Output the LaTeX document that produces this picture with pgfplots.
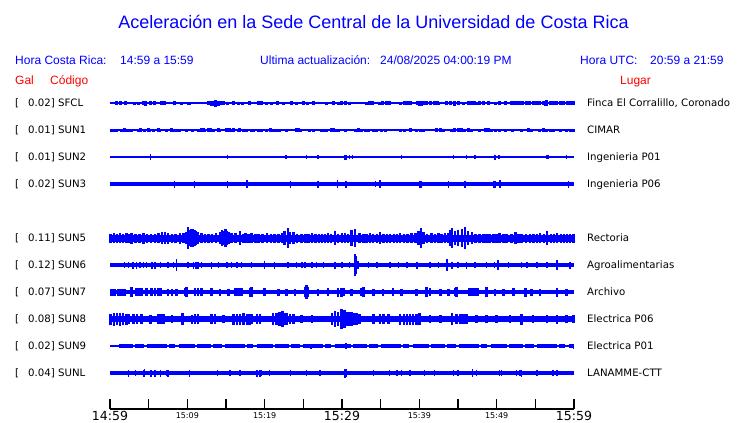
\documentclass[border=0pt]{standalone}
\usepackage{pgfplots}
\pgfplotsset{compat=1.18}
\usepackage{fontspec}
\setmainfont{Liberation Sans}
\newfontfamily\dejavu{DejaVu Sans}
\newcommand\fs[1]{\fontsize{#1}{#1}\selectfont}
\newcommand\bigt[1]{\dejavu\fs{12.5pt}#1}
\newcommand\smt[1]{\raisebox{1.7pt}{\dejavu\fs{8pt}#1}}
\pgfplotsset{
 base/.style={blue, line width=#1, forget plot},
 spk/.style={draw=none, no markers, forget plot, error bars/.cd, y dir=both, y explicit, error mark=none, error bar style={line width=#1, draw=blue, solid}},
}
\begin{document}
\begin{tikzpicture}
\useasboundingbox (0,0) rectangle (740pt,-423pt);
\begin{axis}[
 at={(110pt,-409pt)}, anchor=south west, scale only axis, width=464pt, height=319pt,
 xmin=0, xmax=60, ymin=14, ymax=333, clip=false,
 axis y line=none, axis x line=bottom, x axis line style={-, line width=1.2pt, black},
 xtick={0,10,...,60}, minor xtick={5,15,...,55},
 xtick align=inside, major tick length=10pt, minor tick length=10pt,
 every tick/.style={black, line width=1.1pt},
 xticklabels={\bigt{14:59},\smt{15:09},\smt{15:19},\bigt{15:29},\smt{15:39},\smt{15:49},\bigt{15:59}},
 xticklabel style={anchor=base, inner sep=0pt, yshift=-11pt},
]
% ---- SFCL (y=320)
\addplot[base=1.4pt] coordinates {(0,320) (60,320)};
\addplot[spk=3pt] table[x=t, y expr=320, y error=a, row sep=\\] {t a\\
0.8 2\\ 1.3 2\\ 2.0 2\\ 3.2 1.5\\ 3.7 1.5\\ 4.3 2\\ 4.6 2.5\\ 5.2 2\\ 5.8 2\\ 6.6 2\\ 7.1 2\\ 8.4 2\\ 9.3 1.5\\ 10.1 1.5\\ 10.3 1.5\\
12.7 2\\ 13.1 2.5\\ 13.4 2.5\\ 13.7 3.5\\ 14.0 2.5\\ 14.3 2\\ 14.7 2\\ 15.2 1.5\\ 16.0 2\\ 16.6 1.5\\ 17.1 1.5\\ 18.1 2\\ 19.2 2\\ 19.6 2\\
20.3 1.5\\ 20.9 1.5\\ 21.6 2\\ 22.4 1.5\\ 23.5 2\\ 24.1 1.5\\ 25.0 2\\ 25.6 1.5\\ 26.3 2\\ 28.0 1.5\\ 28.9 2\\ 29.5 1.5\\ 29.9 2\\
30.4 2\\ 31.0 1.5\\ 33.2 1.5\\ 33.6 2\\ 33.9 2\\ 34.9 1.5\\ 35.3 2\\ 35.8 2\\ 36.2 2\\ 37.5 1.5\\ 38.1 2\\ 38.5 2\\ 38.8 2\\ 39.7 2\\
40.0 2.5\\ 40.3 2.5\\ 40.5 2\\ 40.9 2\\ 41.4 2\\ 42.0 2\\ 42.3 2\\ 42.5 1.5\\ 43.5 2\\ 44.0 2\\ 44.6 2.5\\ 45.0 2\\ 45.7 1.5\\ 46.3 2\\
46.8 2\\ 47.1 2\\ 47.4 1.5\\ 47.8 2\\ 48.3 2\\ 48.9 2\\ 49.8 1.5\\ 50.4 2\\ 51.1 2\\ 51.9 2\\ 52.3 2\\ 52.6 2\\ 53.0 2\\ 53.4 2\\ 53.9 2\\
54.3 2\\ 54.7 2\\ 55.2 2\\ 55.6 2\\ 56.0 2\\ 56.3 2.5\\ 56.5 3\\ 56.9 2\\ 57.3 2\\ 57.8 2\\ 58.2 2\\ 58.6 2\\ 59.1 2\\ 59.5 2\\ 59.9 2\\
};
% ---- SUN1 (y=293)
\addplot[base=1.2pt] coordinates {(0,293) (60,293)};
\addplot[spk=3pt] table[x=t, y expr=293, y error=a, row sep=\\] {t a\\
0.13 1.5\\ 0.43 1.5\\ 0.86 1.5\\ 1.5 1.5\\ 1.85 2\\ 2.15 1.5\\ 2.45 1.5\\ 2.8 1.5\\ 3.66 1.5\\ 3.88 2\\ 4.44 1.5\\ 4.95 2\\ 5.17 1.5\\ 5.6 1.5\\
6.25 2\\ 6.46 1.5\\ 7.3 1.5\\ 7.97 2\\ 8.19 1.5\\ 8.62 1.5\\ 9.05 1.5\\ 9.9 1.5\\ 10.64 1.5\\ 11.4 1.5\\ 11.85 2\\ 12.06 2\\ 12.28 1.5\\ 12.8 2\\
13.06 2\\ 13.36 1.5\\ 14.0 2\\ 14.22 1.5\\ 15.08 2\\ 15.3 2\\ 15.5 2\\ 15.73 1.5\\ 15.95 2\\ 16.6 1.5\\ 16.8 2\\ 17.24 1.5\\ 17.67 1.5\\ 18.3 1.5\\
18.53 1.5\\ 19.2 1.5\\ 19.6 1.5\\ 20.25 1.5\\ 20.7 2\\ 21.1 1.5\\ 21.55 1.5\\ 21.98 1.5\\ 22.84 1.5\\ 24.1 2\\ 24.35 2\\ 24.57 1.5\\ 25.86 1.5\\
26.3 1.5\\ 27.37 1.5\\ 27.6 1.5\\ 28.0 1.5\\ 28.66 2\\ 28.87 2\\ 29.1 1.5\\ 29.5 1.5\\ 30.5 1.5\\ 31.7 1.5\\ 32.1 2\\ 32.5 1.5\\ 33.0 1.5\\
33.4 1.5\\ 34.05 1.5\\ 34.5 1.5\\ 35.1 1.5\\ 35.6 1.5\\ 37.5 1.5\\ 38.1 1.5\\ 38.8 2\\ 39.65 1.5\\ 40.1 1.5\\ 40.5 1.5\\ 42.2 2\\ 42.7 2\\
43.1 1.5\\ 44.2 1.5\\ 44.6 2\\ 45.0 2\\ 45.5 2\\ 45.9 1.5\\ 46.3 2\\ 46.8 1.5\\ 47.8 1.5\\ 48.5 2\\ 48.9 2\\ 49.35 1.5\\ 49.8 1.5\\ 50.4 1.5\\
51.1 1.5\\ 52.1 1.5\\ 53.2 1.5\\ 54.1 2\\ 54.5 1.5\\ 55.6 1.5\\ 56.0 2\\ 56.5 1.5\\ 56.9 1.5\\ 57.3 1.5\\ 58.2 1.5\\ 59.05 1.5\\ 59.5 1.5\\ 59.9 1.5\\
};
% ---- SUN2 (y=266)
\addplot[base=1.2pt] coordinates {(0,266) (60,266)};
\addplot[spk=1.3pt] table[x=t, y expr=266, y error=a, row sep=\\] {t a\\
5.2 3\\ 15.2 2\\ 22.75 2\\ 25.4 2\\ 26.9 2\\ 30.4 2.5\\ 30.6 2.5\\ 31.0 2\\ 31.4 2\\ 37.7 2\\ 44.4 2\\ 46.1 2\\ 47.2 2\\ 49.8 2.5\\
50.3 2\\ 56.5 2\\ 56.7 2\\ 59.05 2\\
};
% ---- SUN3 (y=239)
\addplot[base=3.8pt] coordinates {(0,239) (60,239)};
\addplot[spk=1.3pt] table[x=t, y expr=239, y error=a, row sep=\\] {t a\\
8.3 3.5\\ 10.9 3.5\\ 15.2 3.5\\ 17.7 4\\ 23.3 3.5\\ 26.9 3.5\\ 29.4 4\\ 30.5 3.5\\ 34.3 3\\ 34.9 4\\ 40.1 3.5\\ 40.3 3.5\\ 43.75 3.5\\
45.9 3.5\\ 49.6 3.5\\ 49.8 3.5\\ 50.4 4\\ 50.5 4\\ 59.3 3.5\\
};
% ---- SUN5 (y=185)
\addplot[base=7pt] coordinates {(0,185) (60,185)};
\addplot[spk=2.6pt] table[x=t, y expr=185, y error=a, row sep=\\] {t a\\
0.1 4.5\\ 0.5 5\\ 0.9 4.5\\ 1.3 5\\ 1.7 4.5\\ 2.1 5\\ 2.5 4.5\\ 2.8 5.5\\ 3.3 4.5\\ 3.8 4.5\\ 4.3 5.5\\ 4.8 4.5\\ 5.3 4.5\\ 5.8 4.5\\ 6.3 5\\
6.7 6\\ 7.1 6\\ 7.5 5.5\\ 8.0 4.5\\ 8.5 4.5\\ 9.05 5.5\\ 9.5 5\\ 9.9 6\\ 10.1 11\\ 10.3 8\\ 10.5 9\\ 10.7 9\\ 10.9 8\\ 11.1 7\\ 11.4 6\\ 11.8 5\\
12.3 4.5\\ 12.7 4.5\\ 13.2 4.5\\ 13.7 5\\ 14.2 6\\ 14.5 8\\ 14.7 7\\ 14.9 9\\ 15.1 7\\ 15.4 6\\ 15.7 5\\ 16.2 5\\ 16.8 7\\ 17.2 4.5\\ 17.5 5\\
17.9 4.5\\ 18.3 5\\ 18.8 4.5\\ 19.2 4.5\\ 19.7 4.5\\ 20.3 5\\ 20.8 4.5\\ 21.3 4.5\\ 21.8 4.5\\ 22.3 5\\ 22.6 7\\ 23.0 10\\ 23.3 6\\ 23.7 6\\
24.2 4.5\\ 24.8 4.5\\ 25.3 4.5\\ 25.7 4.5\\ 26.1 5\\ 26.6 4.5\\ 27.0 4.5\\ 27.4 4.5\\ 27.8 4.5\\ 28.2 5\\ 28.6 4.5\\ 29.1 7\\ 29.5 4.5\\ 30.0 5\\
30.4 5\\ 30.8 4.5\\ 31.25 8\\ 31.7 9\\ 32.3 5\\ 32.8 4.5\\ 33.2 4.5\\ 33.6 5\\ 34.0 4.5\\ 34.5 4.5\\ 34.9 6\\ 35.4 4.5\\ 35.8 4.5\\ 36.2 4.5\\
36.7 4.5\\ 37.1 4.5\\ 37.5 5\\ 38.0 4.5\\ 38.5 4.5\\ 39.0 5\\ 39.5 5\\ 39.9 7\\ 40.2 10\\ 40.5 6\\ 41.0 4.5\\ 41.6 5\\ 42.0 4.5\\ 42.5 5\\
42.9 4.5\\ 43.3 5\\ 43.7 5\\ 44.0 8\\ 44.2 10\\ 44.6 7\\ 45.0 8\\ 45.5 9\\ 45.9 11\\ 46.3 7\\ 46.8 6\\ 47.3 4.5\\ 47.8 4.5\\ 48.3 4.5\\ 48.7 4.5\\
49.1 4.5\\ 49.6 4.5\\ 50.0 4.5\\ 50.4 5\\ 50.9 4.5\\ 51.3 4.5\\ 51.9 4.5\\ 52.4 6\\ 52.8 4.5\\ 53.2 4.5\\ 53.8 4.5\\ 54.3 4.5\\ 54.8 4.5\\
55.2 4.5\\ 55.6 5\\ 56.1 4.5\\ 56.5 7\\ 57.0 4.5\\ 57.4 4.5\\ 57.8 5\\ 58.3 4.5\\ 58.7 4.5\\ 59.1 4.5\\ 59.5 4.5\\ 59.9 4.5\\
};
% ---- SUN6 (y=158)
\addplot[base=3.5pt] coordinates {(0,158) (60,158)};
\addplot[spk=1.5pt] table[x=t, y expr=158, y error=a, row sep=\\] {t a\\
1.9 3\\ 2.4 3\\ 3.0 3.5\\ 3.4 3.5\\ 3.9 3\\ 4.3 3\\ 4.7 3\\ 5.4 3.5\\ 5.8 3.5\\ 6.5 3\\ 7.5 3\\ 8.2 3\\ 8.6 6\\ 10.1 3\\ 10.8 3.5\\ 11.1 3.5\\
11.4 3.5\\ 11.85 3\\ 13.1 3.5\\ 14.0 3\\ 15.1 3\\ 15.7 3\\ 16.4 3\\ 17.0 3\\ 18.3 3\\ 20.0 4\\ 21.3 3.5\\ 23.0 3\\ 24.1 3\\ 24.8 3\\ 25.2 3\\
26.1 3\\ 26.7 3\\ 27.6 3\\ 29.1 3.5\\ 30.0 3\\ 31.0 3\\ 31.7 11\\ 31.8 9\\ 32.1 4\\ 33.4 3\\ 34.5 3\\ 36.2 3\\ 37.3 3\\ 38.4 3\\ 39.7 3.5\\
41.4 3\\ 42.5 3\\ 43.6 6\\ 44.2 3.5\\ 45.0 3\\ 46.1 3.5\\ 47.2 3\\ 48.7 3\\ 49.7 3\\ 50.2 5\\ 51.5 3\\ 53.2 3\\ 53.9 3\\ 55.2 3\\ 56.5 3\\
57.8 5\\ 59.5 3.5\\
};
% ---- SUN7 (y=131)
\addplot[base=4pt] coordinates {(0,131) (60,131)};
\addplot[spk=2.6pt] table[x=t, y expr=131, y error=a, row sep=\\] {t a\\
0.2 3.5\\ 0.6 3.5\\ 1.1 3.5\\ 1.5 3.5\\ 1.9 3.5\\ 2.8 5\\ 3.4 4\\ 3.8 4\\ 4.1 4\\ 4.7 4\\ 5.4 4\\ 5.8 4\\ 6.2 4\\ 6.5 4\\ 7.5 3.5\\ 8.0 3.5\\
8.6 3.5\\ 9.7 4\\ 9.9 5\\ 11.0 4\\ 11.4 4\\ 11.85 4\\ 13.1 4\\ 14.2 3.5\\ 15.3 3.5\\ 16.2 4\\ 16.6 4\\ 17.0 4\\ 18.1 4.5\\ 18.3 5\\ 20.0 4\\
21.8 3.5\\ 22.8 3.5\\ 23.9 3.5\\ 25.2 5\\ 25.4 7\\ 25.6 5\\ 26.9 3.5\\ 28.2 4\\ 29.5 4.5\\ 29.9 4.5\\ 30.2 4\\ 31.25 3.5\\ 32.5 4\\ 32.8 5\\
34.05 3.5\\ 35.3 3.5\\ 36.6 4\\ 37.7 3.5\\ 39.65 3.5\\ 40.9 5\\ 41.4 4\\ 42.7 3.5\\ 43.8 3.5\\ 44.6 4\\ 44.8 5\\ 46.5 4\\ 46.9 4\\ 47.3 4\\
47.6 4\\ 48.7 5\\ 49.8 3.5\\ 50.9 3.5\\ 52.2 4\\ 53.7 4.5\\ 54.5 3.5\\ 55.6 3.5\\ 57.8 4.5\\ 59.05 3.5\\
};
% ---- SUN8 (y=104)
\addplot[base=6pt] coordinates {(0,104) (60,104)};
\addplot[spk=2.6pt] table[x=t, y expr=104, y error=a, row sep=\\] {t a\\
0.1 5.5\\ 0.5 6.5\\ 0.9 6\\ 1.3 6.5\\ 1.7 6\\ 2.1 5.5\\ 2.4 5\\ 3.0 5\\ 3.5 5\\ 4.1 5\\ 5.2 4.5\\ 6.25 5\\ 6.6 5\\ 6.9 5\\ 8.0 4\\ 9.4 6\\
10.6 4.5\\ 11.0 5\\ 11.4 5\\ 13.1 5\\ 13.6 5\\ 14.65 4\\ 16.0 5.5\\ 16.4 5.5\\ 16.8 5.5\\ 17.3 6\\ 17.7 5.5\\ 18.0 5.5\\ 18.3 5\\ 19.0 5\\
19.4 5\\ 21.1 6\\ 21.5 6\\ 21.9 7\\ 22.3 8\\ 22.6 6\\ 22.8 6\\ 23.3 5\\ 23.7 5\\ 24.8 4\\ 26.1 4\\ 28.7 6\\ 29.1 8\\ 29.5 7\\ 29.9 10\\
30.0 7\\ 30.3 9\\ 30.6 7\\ 30.9 7\\ 31.2 7\\ 31.5 6\\ 31.9 6\\ 32.3 5\\ 34.05 5\\ 34.9 5\\ 35.4 5\\ 36.0 5\\ 37.5 5.5\\ 38.0 5.5\\ 38.4 5.5\\
38.8 5.5\\ 39.2 5.5\\ 39.6 5.5\\ 40.0 6\\ 41.4 4\\ 42.7 4\\ 44.2 6\\ 44.8 5\\ 45.3 5\\ 45.7 5\\ 46.1 5\\ 47.4 4\\ 48.7 4\\ 50.0 4\\ 51.7 4\\
53.2 5.5\\ 54.7 4\\ 56.5 4\\ 57.8 4.5\\ 59.05 4\\ 59.9 4\\
};
% ---- SUN9 (y=77)
\addplot[base=1.3pt] coordinates {(0,77) (60,77)};
\addplot[blue, line width=3.4pt, forget plot, dash pattern=on 14pt off 2pt on 9pt off 3pt on 20pt off 2pt on 6pt off 4pt on 16pt off 2pt] coordinates {(1.2,77) (60,77)};
\addplot[spk=1.3pt] table[x=t, y expr=77, y error=a, row sep=\\] {t a\\
26.0 2.5\\ 30.5 3\\ 59.9 2.5\\
};
% ---- SUNL (y=50)
\addplot[base=3.6pt] coordinates {(0,50) (60,50)};
\addplot[spk=1.3pt] table[x=t, y expr=50, y error=a, row sep=\\] {t a\\
2.37 3.5\\ 3.3 3\\ 4.4 3.5\\ 4.5 4\\ 5.3 3.5\\ 5.8 3.5\\ 6.5 3.5\\ 7.3 3\\ 7.5 3.5\\ 10.3 3.5\\ 13.9 3\\ 15.5 3\\ 16.8 3\\ 19.0 3.5\\ 19.4 3.5\\
19.6 3\\ 20.6 3\\ 23.3 3\\ 25.4 3\\ 27.15 3\\ 30.3 4.5\\ 30.4 4.5\\ 30.6 4\\ 34.05 3\\ 36.1 3\\ 37.1 3\\ 37.7 3\\ 38.8 3\\ 40.7 3\\ 42.0 3\\
44.4 3\\ 45.0 3\\ 46.9 4\\ 47.4 3\\ 50.4 3\\ 50.6 3\\ 52.6 3\\ 53.0 3\\ 53.2 3.5\\ 55.2 3\\ 57.3 3\\ 57.8 3\\
};
\end{axis}
% ---- header
\node[anchor=base, inner sep=0pt, blue, font=\fs{18pt}] at (373.5pt,-28.5pt) {Aceleración en la Sede Central de la Universidad de Costa Rica};
\begin{scope}[every node/.style={anchor=base west, inner sep=0pt, font=\fs{12pt}}]
\node[blue] at (15pt,-64.3pt) {Hora Costa Rica:};
\node[blue] at (120pt,-64.3pt) {14:59 a 15:59};
\node[blue] at (260pt,-64.3pt) {Ultima actualización:};
\node[blue] at (380pt,-64.3pt) {24/08/2025 04:00:19 PM};
\node[blue] at (580pt,-64.3pt) {Hora UTC:};
\node[blue] at (650pt,-64.3pt) {20:59 a 21:59};
\node[red] at (15pt,-84.3pt) {Gal};
\node[red] at (50pt,-84.3pt) {Código};
\node[red] at (620pt,-84.3pt) {Lugar};
\end{scope}
% ---- station labels
\begin{scope}[every node/.style={anchor=base west, inner sep=0pt, font=\dejavu\fs{10.2pt}}]
\foreach \py/\g/\c/\p in {103/0.02/SFCL/{Finca El Corralillo, Coronado}, 130/0.01/SUN1/CIMAR, 157/0.01/SUN2/Ingenieria P01, 184/0.02/SUN3/Ingenieria P06, 238/0.11/SUN5/Rectoria, 265/0.12/SUN6/Agroalimentarias, 292/0.07/SUN7/Archivo, 319/0.08/SUN8/Electrica P06, 346/0.02/SUN9/Electrica P01, 373/0.04/SUNL/LANAMME-CTT}{
 \node at (15pt,{-\py pt-3.7pt}) {[};
 \node at (28pt,{-\py pt-3.7pt}) {\g] \c};
 \node at (587pt,{-\py pt-3.7pt}) {\p};
}
\end{scope}
\end{tikzpicture}
\end{document}
